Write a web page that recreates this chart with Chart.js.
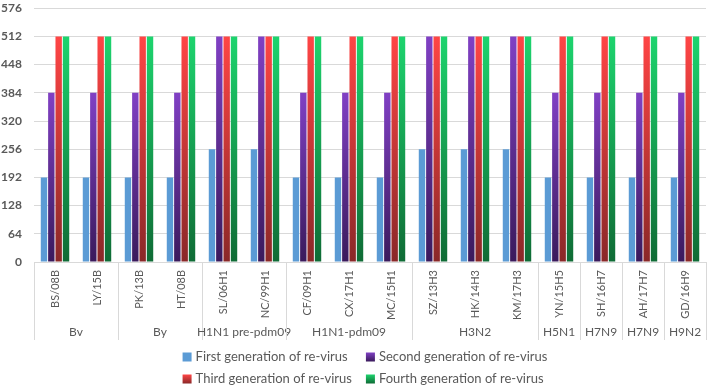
<!DOCTYPE html>
<html>
<head>
<meta charset="utf-8">
<script src="https://cdn.jsdelivr.net/npm/chart.js@4/dist/chart.umd.min.js"></script>
<style>
  html, body { margin: 0; padding: 0; background: #fff; }
  #wrap { width: 709px; height: 388px; position: relative; }
</style>
</head>
<body>
<div id="wrap"><canvas id="chart"></canvas></div>
<script>
// strains (x categories) and their subtype groups
const strains = ['BS/08B', 'LY/15B', 'PK/13B', 'HT/08B', 'SL/06H1', 'NC/99H1', 'CF/09H1', 'CX/17H1',
    'MC/15H1', 'SZ/13H3', 'HK/14H3', 'KM/17H3', 'YN/15H5', 'SH/16H7', 'AH/17H7', 'GD/16H9'];
const groupNames = ['Bv', 'By', 'H1N1 pre-pdm09', 'H1N1-pdm09', 'H3N2', 'H5N1', 'H7N9', 'H7N9', 'H9N2'];
const groupSizes = [2, 2, 2, 3, 3, 1, 1, 1, 1];

// titres per generation
const firstGen = [192, 192, 192, 192, 256, 256, 192, 192, 192, 256, 256, 256, 192, 192, 192, 192];
const secondGen = [384, 384, 384, 384, 512, 512, 384, 384, 384, 512, 512, 512, 384, 384, 384, 384];
const thirdGen = [512, 512, 512, 512, 512, 512, 512, 512, 512, 512, 512, 512, 512, 512, 512, 512];
const fourthGen = [512, 512, 512, 512, 512, 512, 512, 512, 512, 512, 512, 512, 512, 512, 512, 512];

const seriesNames = ['First generation of re-virus', 'Second generation of re-virus',
    'Third generation of re-virus', 'Fourth generation of re-virus'];

const yMax = 576;
const yStep = 64;

// top / bottom colours of each bar fill
const fills = [
    { top: '#5B9BD5', bottom: '#5B9BD5' },
    { top: '#8040C4', bottom: '#3A1A5C' },
    { top: '#FF4545', bottom: '#8A2828' },
    { top: '#1DD46E', bottom: '#0F6B35' }
];

const textColor = '#595959';
const lineColor = '#d9d9d9';
const fontFamily = 'Lato, "Noto Sans", sans-serif';

//..vertical gradient for one bar
function barFill(idx) {
    return function (c) {
        const chart = c.chart;
        const f = fills[idx];
        if (f.top === f.bottom || !chart.chartArea || !c.parsed) {
            return f.top;
        }
        const ys = chart.scales.y;
        const y0 = ys.getPixelForValue(c.parsed.y);
        const y1 = ys.getPixelForValue(0);
        const g = chart.ctx.createLinearGradient(0, y0, 0, y1);
        g.addColorStop(0, f.top);
        g.addColorStop(1, f.bottom);
        return g;
    };
}

function swatchFill(ctx, idx, y, s) {
    const f = fills[idx];
    const g = ctx.createLinearGradient(0, y, 0, y + s);
    g.addColorStop(0, f.top);
    g.addColorStop(1, f.bottom);
    return g;
}

//..group row under the strain labels + two-row legend
const groupsPlugin = {
    id: 'groups',
    afterDraw(chart) {
        const ctx = chart.ctx;
        const xs = chart.scales.x;
        const area = chart.chartArea;
        const half = (xs.getPixelForValue(1) - xs.getPixelForValue(0)) / 2;

        ctx.save();
        ctx.strokeStyle = lineColor;
        ctx.lineWidth = 1;
        ctx.fillStyle = textColor;
        ctx.font = '12px ' + fontFamily;
        ctx.textAlign = 'center';
        ctx.textBaseline = 'middle';

        let start = 0;
        const drawSep = (x) => {
            const px = Math.round(x) + 0.5;
            ctx.beginPath();
            ctx.moveTo(px, area.bottom);
            ctx.lineTo(px, area.bottom + 78);
            ctx.stroke();
        };
        drawSep(xs.getPixelForValue(0) - half);
        groupSizes.forEach((n, i) => {
            const left = xs.getPixelForValue(start) - half;
            const right = xs.getPixelForValue(start + n - 1) + half;
            ctx.fillText(groupNames[i], (left + right) / 2, 332);
            drawSep(right);
            start += n;
        });

        // legend: 2 x 2
        ctx.font = '13px ' + fontFamily;
        ctx.textAlign = 'left';
        const box = 9;
        const gap = 4;
        const colGap = 14;
        const w0 = Math.max(ctx.measureText(seriesNames[0]).width, ctx.measureText(seriesNames[2]).width) + box + gap;
        const w1 = Math.max(ctx.measureText(seriesNames[1]).width, ctx.measureText(seriesNames[3]).width) + box + gap;
        const x0 = 365 - (w0 + colGap + w1) / 2;
        const cols = [x0, x0 + w0 + colGap];
        const rows = [357, 379];
        seriesNames.forEach((name, i) => {
            const x = cols[i % 2];
            const y = rows[Math.floor(i / 2)];
            ctx.fillStyle = swatchFill(ctx, i, y - box / 2, box);
            ctx.fillRect(x, y - box / 2, box, box);
            ctx.fillStyle = textColor;
            ctx.fillText(name, x + box + gap, y);
        });
        ctx.restore();
    }
};

const seriesData = [firstGen, secondGen, thirdGen, fourthGen];

new Chart(document.getElementById('chart'), {
    type: 'bar',
    data: {
        labels: strains,
        datasets: seriesData.map((d, i) => ({
            label: seriesNames[i],
            data: d,
            backgroundColor: barFill(i),
            borderWidth: 0,
            categoryPercentage: 0.7,
            barPercentage: 0.87
        }))
    },
    options: {
        responsive: true,
        maintainAspectRatio: false,
        animation: false,
        layout: { padding: { top: 0, right: 3, left: 0, bottom: 0 } },
        scales: {
            x: {
                grid: { display: false, drawTicks: false },
                border: { color: lineColor },
                ticks: {
                    color: textColor,
                    font: { family: fontFamily, size: 11 },
                    minRotation: 90,
                    maxRotation: 90,
                    padding: 8,
                    autoSkip: false
                },
                afterFit(scale) { scale.height = 126; }
            },
            y: {
                min: 0,
                max: yMax,
                grid: { color: lineColor, drawTicks: true, tickLength: 11, tickColor: 'rgba(0,0,0,0)' },
                border: { display: false },
                ticks: {
                    stepSize: yStep,
                    color: textColor,
                    font: { family: fontFamily, size: 12, weight: 'bold' },
                    padding: 1
                },
                afterFit(scale) { scale.width = 34; }
            }
        },
        plugins: {
            legend: { display: false },
            tooltip: { enabled: false }
        }
    },
    plugins: [groupsPlugin]
});
</script>
</body>
</html>
